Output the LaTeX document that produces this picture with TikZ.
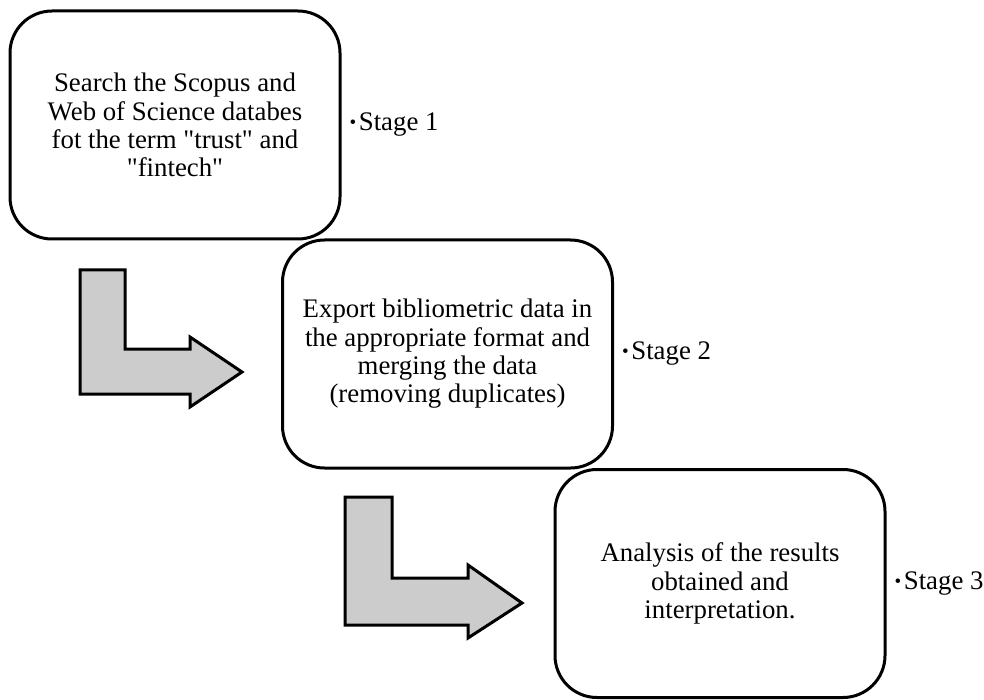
\documentclass[tikz,border=0pt]{standalone}
\usepackage{fontspec}
\setmainfont{Liberation Serif}
\definecolor{arrowgray}{HTML}{CCCCCC}
\tikzset{
  stagebox/.style={draw=black, line width=3pt, rounded corners=42pt, fill=white,
    minimum width=330pt, minimum height=228pt, align=center, inner sep=0pt,
    font=\fontsize{26.8}{28.3}\selectfont},
  stagelabel/.style={anchor=west, inner sep=0pt, font=\fontsize{26.8}{28.3}\selectfont},
  bentarrow/.style={draw=black, line width=3pt, fill=arrowgray, line join=miter}
}
\newcommand{\qq}{\textquotedbl}
\newcommand{\stagebullet}{\raisebox{2.2pt}{\fontsize{19}{19}\selectfont\textbullet}\hspace{2.5pt}}
\begin{document}
\begin{tikzpicture}[x=1pt, y=-1pt]
\useasboundingbox (0,0) rectangle (984,700);
% boxes
\node[stagebox] (b1) at (175,125) {Search the Scopus and\\Web of Science databes\\fot the term \qq trust\qq{} and\\\qq fintech\qq};
\node[stagebox] (b2) at (447.5,354) {Export bibliometric data in\\the appropriate format and\\merging the data\\(removing duplicates)};
\node[stagebox] (b3) at (720,583.5) {Analysis of the results\\obtained and\\interpretation.};
% stage labels
\node[stagelabel] (s1) at ([xshift=8pt]b1.east) {\stagebullet Stage 1};
\node[stagelabel] (s2) at ([xshift=8pt]b2.east) {\stagebullet Stage 2};
\node[stagelabel] (s3) at ([xshift=8pt]b3.east) {\stagebullet Stage 3};
% bent arrows
\draw[bentarrow] (80,270) -- (125,270) -- (125,349) -- (190,349) -- (190,337)
  -- (242,372) -- (190,407) -- (190,394) -- (80,394) -- cycle;
\draw[bentarrow] (345,497) -- (392,497) -- (392,578) -- (468,578) -- (468,565)
  -- (522,603) -- (468,638) -- (468,625) -- (345,625) -- cycle;
\end{tikzpicture}
\end{document}
